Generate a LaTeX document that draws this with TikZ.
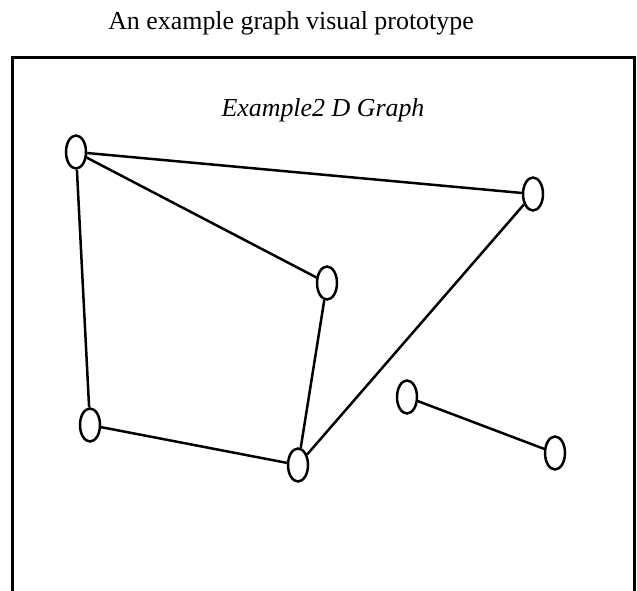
\documentclass[tikz,border=0pt]{standalone}
\usepackage{fontspec}
\setmainfont{Liberation Serif}
\usetikzlibrary{shapes.geometric}
\begin{document}
\begin{tikzpicture}[x=1bp,y=-1bp,
  vert/.style={ellipse,draw,line width=2.5bp,minimum width=20bp,minimum height=33bp,inner sep=0pt},
  edge/.style={line width=2.5bp}]
\useasboundingbox (0,0) rectangle (637,591);
\draw[line width=3bp] (12,595) -- (12,58) -- (634,58) -- (634,595);
\node[anchor=base] (title) at (291,30) {\fontsize{26}{30}\selectfont An example graph visual prototype};
\node[anchor=base] (sub) at (323,117) {\fontsize{26}{30}\selectfont\itshape Example2 D Graph};
\node[vert] (a) at (76,152) {};
\node[vert] (b) at (533,194) {};
\node[vert] (c) at (327,283) {};
\node[vert] (d) at (90,425) {};
\node[vert] (e) at (298,465) {};
\node[vert] (f) at (407,397) {};
\node[vert] (g) at (555,453) {};
\draw[edge] (a) -- (b);
\draw[edge] (a) -- (c);
\draw[edge] (a) -- (d);
\draw[edge] (d) -- (e);
\draw[edge] (e) -- (c);
\draw[edge] (e) -- (b);
\draw[edge] (f) -- (g);
\end{tikzpicture}
\end{document}
